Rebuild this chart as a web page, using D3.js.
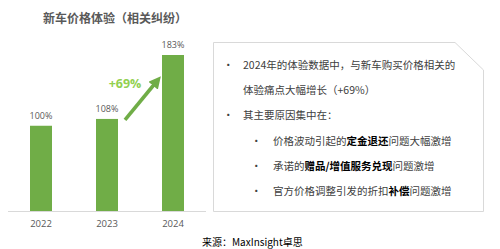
<!DOCTYPE html>
<html>
<head>
<meta charset="utf-8">
<script src="https://cdn.jsdelivr.net/npm/d3@7"></script>
<style>
  body { margin: 0; background: #fff; }
  svg { font-family: "Noto Sans CJK SC", "Noto Sans", sans-serif; }
</style>
</head>
<body>
<div id="chart"></div>
<script>
const years = ["2022", "2023", "2024"];
const values = [100, 108, 183];
const growthLabel = "+69%";
const title = "新车价格体验（相关纠纷）";
const source = "来源：MaxInsight卓思";

// each line: level, pieces [text, bold]
const notes = [
  { level: 0, bullet: true, parts: [["2024年的体验数据中，与新车购买价格相关的", false]] },
  { level: 0, bullet: false, parts: [["体验痛点大幅增长（+69%）", false]] },
  { level: 0, bullet: true, parts: [["其主要原因集中在：", false]] },
  { level: 1, bullet: true, parts: [["价格波动引起的", false], ["定金退还", true], ["问题大幅激增", false]] },
  { level: 1, bullet: true, parts: [["承诺的", false], ["赠品/增值服务兑现", true], ["问题激增", false]] },
  { level: 1, bullet: true, parts: [["官方价格调整引发的折扣", false], ["补偿", true], ["问题激增", false]] }
];

const width = 500, height = 249;
const green = "#70ad47";

const svg = d3.select("#chart").append("svg")
  .attr("width", width)
  .attr("height", height);

svg.append("text")
  .attr("x", 43)
  .attr("y", 23)
  .attr("font-size", 12)
  .attr("font-weight", "bold")
  .attr("fill", "#595959")
  .text(title);

const x = d3.scaleBand()
  .domain(years)
  .range([8, 206]);

const y = d3.scaleLinear()
  .domain([0, 183])
  .range([211, 55]);

const barW = 22;

// baseline
svg.append("line")
  .attr("x1", 8).attr("x2", 206)
  .attr("y1", y(0) + 0.5).attr("y2", y(0) + 0.5)
  .attr("stroke", "#d9d9d9");

svg.selectAll(".bar")
  .data(values)
  .enter()
  .append("rect")
  .attr("class", "bar")
  .attr("x", (d, i) => x(years[i]) + x.bandwidth() / 2 - barW / 2)
  .attr("y", d => y(d))
  .attr("width", barW)
  .attr("height", d => y(0) - y(d))
  .attr("fill", green);

svg.selectAll(".val")
  .data(values)
  .enter()
  .append("text")
  .attr("class", "val")
  .attr("x", (d, i) => x(years[i]) + x.bandwidth() / 2)
  .attr("y", d => y(d) - 7)
  .attr("text-anchor", "middle")
  .attr("font-family", "'Open Sans', sans-serif")
  .attr("font-size", 9)
  .attr("fill", "#595959")
  .text(d => d + "%");

svg.selectAll(".year")
  .data(years)
  .enter()
  .append("text")
  .attr("class", "year")
  .attr("x", d => x(d) + x.bandwidth() / 2)
  .attr("y", y(0) + 16)
  .attr("text-anchor", "middle")
  .attr("font-family", "'Open Sans', sans-serif")
  .attr("font-size", 9.5)
  .attr("fill", "#595959")
  .text(d => d);

// growth arrow between 2023 and 2024
svg.append("defs").append("marker")
  .attr("id", "head")
  .attr("viewBox", "0 0 10 10")
  .attr("refX", 5).attr("refY", 5)
  .attr("markerWidth", 3.4).attr("markerHeight", 3.4)
  .attr("markerUnits", "strokeWidth")
  .attr("orient", "auto")
  .append("path")
  .attr("d", "M0,0 L10,5 L0,10 z")
  .attr("fill", green);

const ax1 = x("2023") + x.bandwidth() / 2 + 18;
const ay1 = y(values[1]) + 1;
const ax2 = x("2024") + x.bandwidth() / 2 - 16;
const ay2 = y(values[2]) + 26;

svg.append("line")
  .attr("x1", ax1).attr("y1", ay1)
  .attr("x2", ax2).attr("y2", ay2)
  .attr("stroke", green)
  .attr("stroke-width", 3.6)
  .attr("marker-end", "url(#head)");

svg.append("text")
  .attr("x", 125)
  .attr("y", 88)
  .attr("text-anchor", "middle")
  .attr("font-family", "'Open Sans', sans-serif")
  .attr("font-weight", "bold")
  .attr("font-size", 12.5)
  .attr("fill", "#92d050")
  .text(growthLabel);

// note box with a clipped top-right corner
svg.append("path")
  .attr("d", "M213.5,42.5 H455 L483.5,70 V211.5 H213.5 Z")
  .attr("fill", "#fff")
  .attr("stroke", "#d9d9d9");

const lineY = [65, 90, 115, 141, 166, 191];
notes.forEach((n, i) => {
  const bx = n.level === 0 ? 223 : 251;
  const tx = n.level === 0 ? 243 : 273;
  if (n.bullet) {
    svg.append("text")
      .attr("x", bx).attr("y", lineY[i] + 4)
      .attr("font-size", 10.5)
      .attr("fill", "#404040")
      .text("•");
  }
  const t = svg.append("text")
    .attr("x", tx).attr("y", lineY[i] + 4)
    .attr("font-size", 10.5)
    .attr("fill", "#404040");
  n.parts.forEach(p => {
    t.append("tspan")
      .attr("font-weight", p[1] ? "bold" : "normal")
      .attr("fill", p[1] ? "#000" : "#404040")
      .text(p[0]);
  });
});

svg.append("text")
  .attr("x", 202)
  .attr("y", 246)
  .attr("font-size", 10)
  .attr("fill", "#000")
  .text(source);
</script>
</body>
</html>
